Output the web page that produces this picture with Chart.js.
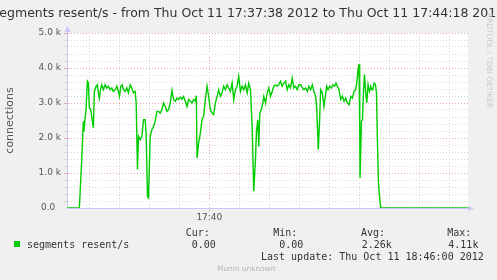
<!DOCTYPE html>
<html>
<head>
<meta charset="utf-8">
<script src="https://cdn.jsdelivr.net/npm/chart.js@4/dist/chart.umd.min.js"></script>
<style>
html, body { margin: 0; padding: 0; background: #f0f0f0; }
</style>
</head>
<body>
<canvas id="graph" width="497" height="280"></canvas>
<script>
// seconds since 17:37:38 and segments resent/s
var secs = [0, 12.3, 14.7, 16.3, 17, 18, 19, 20.3, 21.3, 22.3, 23.7, 25.3, 26.3, 27.3, 29, 30.3, 31.3, 32.3, 33.7, 34.7,
    36.3, 38, 39.7, 41.3, 43, 44.7, 46.3, 48, 49.7, 51.3, 52.3, 53.7, 55, 56.3, 58, 59.7, 61.3, 63, 64.7, 66.3,
    68, 69, 70.3, 71.3, 73, 74.7, 76.3, 78, 79, 80.3, 81.3, 83, 84.7, 86.3, 88, 89.7, 91.3, 93, 94.7, 96.3,
    98, 99.7, 101.3, 103, 104.7, 106.3, 108, 109.7, 111.3, 113, 114.7, 116.3, 118, 119.7, 121.3, 123, 124.7, 126.3, 128, 129,
    129.7, 131.3, 133, 134.7, 136.3, 138, 139.7, 141.3, 143, 144.7, 146.3, 148, 149.7, 151.3, 153, 154.7, 156.3, 158, 159.7, 161.3,
    163, 164.7, 166.3, 168, 169.7, 171.3, 173, 174.7, 176.3, 178, 179.7, 181.3, 183, 184.7, 186.3, 188, 189, 190.3, 191.3, 192.3,
    193.7, 194.7, 196.3, 198, 199.7, 201.3, 203, 204.7, 206.3, 208, 209.7, 211.3, 213, 214.7, 216.3, 218, 219.7, 221.3, 223, 224.7,
    226.3, 228, 229.7, 231.3, 233, 234.7, 236.3, 238, 239.7, 241.3, 243, 244.7, 246.3, 248, 249, 250.7, 252, 253, 254.7, 256.3,
    257.7, 259, 260.3, 262, 263.7, 265.3, 267, 268.3, 269.7, 271.3, 273, 274.7, 276.3, 278, 279.7, 281.3, 283, 284.7, 286.3, 288,
    289, 290.3, 291.3, 292, 292.3, 293.7, 294.7, 295.7, 296.7, 298, 299, 300.3, 301.7, 303, 304, 305, 306.3, 307.7, 308.7, 309.7,
    310.7, 311.7, 313, 400]
var resent = [0, 0, 1380, 2480, 2190, 2570, 2810, 3620, 3570, 2860, 2810, 2480, 2290, 3330, 3480, 3520, 3290, 3140, 3430, 3520,
    3380, 3520, 3430, 3480, 3380, 3430, 3330, 3380, 3480, 3330, 3190, 3480, 3520, 3380, 3330, 3430, 3290, 3520, 3430, 3290,
    3330, 3000, 1100, 2050, 1950, 2050, 2520, 2520, 2050, 330, 290, 2050, 2240, 2330, 2480, 2760, 2760, 2710, 2810, 3000,
    2900, 2760, 2810, 3000, 3360, 3100, 3050, 3140, 3100, 3170, 3110, 3190, 3050, 2900, 3100, 3050, 3000, 3100, 3050, 3210,
    1430, 1860, 2140, 2520, 2620, 3100, 3480, 3190, 2810, 2710, 2670, 3000, 3190, 3380, 3190, 3290, 3480, 3380, 3520, 3430,
    3330, 3570, 3100, 3380, 3480, 3760, 3330, 3480, 3380, 3520, 3290, 3570, 3380, 2330, 480, 1380, 2190, 2520, 1760, 2710,
    2810, 2900, 3190, 3000, 3290, 3430, 3190, 3330, 3480, 3520, 3480, 3520, 3620, 3480, 3570, 3620, 3380, 3520, 3430, 3710,
    3430, 3480, 3380, 3520, 3520, 3430, 3380, 3430, 3330, 3480, 3380, 3520, 3330, 3190, 2900, 1670, 2520, 3380, 3290, 2900,
    3190, 3480, 3380, 3480, 3430, 3520, 3480, 3570, 3480, 3380, 3100, 3190, 3050, 3140, 3000, 2950, 3190, 3140, 3330, 3380,
    3570, 3950, 4110, 2330, 860, 2480, 2520, 3290, 3810, 3290, 3000, 3520, 3330, 3480, 3380, 3380, 3570, 3520, 3290, 1860,
    710, 330, 0, 0]

// grid ticks
var yTicks = [0, 200, 400, 600, 800, 1000, 1200, 1400, 1600, 1800, 2000, 2200, 2400, 2600, 2800, 3000,
    3200, 3400, 3600, 3800, 4000, 4200, 4400, 4600, 4800, 5000]
var xTicks = [22, 52, 82, 112, 142, 172, 202, 232, 262, 292, 322, 352, 382]
var xLabels = {142: '17:40'}

var title = 'segments resent/s - from Thu Oct 11 17:37:38 2012 to Thu Oct 11 17:44:18 2012'
var seriesName = 'segments resent/s'
var statNames = ['Cur:', 'Min:', 'Avg:', 'Max:']
var statValues = ['0.00', '0.00', '2.26k', '4.11k']
var lastUpdate = 'Last update: Thu Oct 11 18:46:00 2012'

var green = '#00cc00'
var axisBlue = '#c8c8f8'
var minorGrid = '#d8d8d8'
var majorGrid = '#e8a8a8'

var points = []
for (let i = 0; i < secs.length; i++) {
    points.push({x: secs[i], y: resent[i]})
}

var munin = {
    id: 'munin',
    beforeDraw(chart) {
        var c = chart.ctx, a = chart.chartArea
        c.save()
        c.fillStyle = '#f0f0f0'
        c.fillRect(0, 0, chart.width, chart.height)
        c.fillStyle = '#ffffff'
        c.fillRect(a.left, a.top, a.right - a.left, a.bottom - a.top)
        c.restore()
    },
    afterDraw(chart) {
        var c = chart.ctx, a = chart.chartArea
        c.save()
        // axis arrows
        c.fillStyle = axisBlue
        c.strokeStyle = axisBlue
        c.lineWidth = 1
        c.beginPath()
        c.moveTo(a.left + 0.5, a.top)
        c.lineTo(a.left + 0.5, a.top - 4)
        c.stroke()
        c.beginPath()
        c.moveTo(a.left - 2.5, a.top - 1)
        c.lineTo(a.left + 3.5, a.top - 1)
        c.lineTo(a.left + 0.5, a.top - 7)
        c.closePath()
        c.fill()
        c.beginPath()
        c.moveTo(a.right, a.bottom + 1)
        c.lineTo(a.right, a.bottom - 2)
        c.lineTo(a.right + 6, a.bottom + 0.5)
        c.lineTo(a.right, a.bottom + 3)
        c.closePath()
        c.fill()

        // title
        c.fillStyle = '#333'
        c.font = '12.5px "DejaVu Sans"'
        c.textAlign = 'center'
        c.textBaseline = 'middle'
        c.fillText(title, chart.width / 2, 13.5)

        // watermark
        c.save()
        c.translate(489, 13)
        c.rotate(Math.PI / 2)
        c.fillStyle = '#c8c8c8'
        c.font = '7.4px "DejaVu Sans"'
        c.textAlign = 'left'
        c.fillText('RRDTOOL / TOBI OETIKER', 0, 0)
        c.restore()

        // legend
        c.textAlign = 'left'
        c.font = '10px "DejaVu Sans Mono"'
        c.fillStyle = '#333'
        var nameX = [185.7, 273.3, 361, 447.3]
        var valX = [191.7, 279.3, 361.7, 448.3]
        for (let i = 0; i < statNames.length; i++) {
            c.fillText(statNames[i], nameX[i], 233)
            c.fillText(statValues[i], valX[i], 245)
        }
        c.fillStyle = green
        c.fillRect(14, 241, 6, 6)
        c.fillStyle = '#333'
        c.fillText(seriesName, 27, 245)
        c.fillText(lastUpdate, 261, 257)

        c.fillStyle = '#b4b4b4'
        c.font = '7.4px "DejaVu Sans"'
        c.fillText('Munin unknown', 217, 269)
        c.restore()
    }
}

var ctx = document.getElementById('graph').getContext('2d')
var myChart = new Chart(ctx, {
    type: 'line',
    data: {
        datasets: [{
            label: seriesName,
            data: points,
            borderColor: green,
            borderWidth: 1.4,
            pointRadius: 0,
            tension: 0,
            fill: false
        }]
    },
    options: {
        responsive: false,
        animation: false,
        devicePixelRatio: 1,
        layout: {padding: {top: 33, right: 29, bottom: 0, left: 0}},
        plugins: {legend: {display: false}, tooltip: {enabled: false}},
        scales: {
            x: {
                type: 'linear',
                min: 0,
                max: 400,
                afterFit: function (scale) { scale.height = 72 },
                afterBuildTicks: function (scale) {
                    scale.ticks = xTicks.map(v => ({value: v}))
                },
                ticks: {
                    autoSkip: false,
                    maxRotation: 0,
                    padding: 1,
                    color: '#555',
                    font: {family: 'DejaVu Sans', size: 9},
                    callback: function (v) { return xLabels[v] || '' }
                },
                grid: {
                    color: function (c) { return c.tick && xLabels[c.tick.value] ? majorGrid : minorGrid },
                    tickLength: 3,
                    tickColor: function (c) { return c.tick && xLabels[c.tick.value] ? majorGrid : 'rgba(0,0,0,0)' }
                },
                border: {color: axisBlue, width: 1, dash: [1, 2]}
            },
            y: {
                min: 0,
                max: 5000,
                afterFit: function (scale) { scale.width = 67 },
                afterBuildTicks: function (scale) {
                    scale.ticks = yTicks.map(v => ({value: v}))
                },
                ticks: {
                    autoSkip: false,
                    padding: 3,
                    color: '#555',
                    font: {family: 'DejaVu Sans', size: 9},
                    callback: function (v) {
                        if (v === 0) return '0.0  '
                        return v % 1000 === 0 ? (v / 1000).toFixed(1) + ' k' : ''
                    }
                },
                title: {
                    display: true,
                    text: 'connections',
                    color: '#555',
                    font: {family: 'DejaVu Sans', size: 11},
                    padding: {top: 4, bottom: 0}
                },
                grid: {
                    color: function (c) {
                        if (!c.tick || c.tick.value === 0) return 'rgba(0,0,0,0)'
                        return c.tick.value % 1000 === 0 ? majorGrid : minorGrid
                    },
                    tickLength: 3,
                    tickColor: function (c) {
                        if (!c.tick || c.tick.value === 0) return 'rgba(0,0,0,0)'
                        return c.tick.value % 1000 === 0 ? majorGrid : minorGrid
                    }
                },
                border: {color: axisBlue, width: 1, dash: [1, 2]}
            }
        }
    },
    plugins: [munin]
});
</script>
</body>
</html>
